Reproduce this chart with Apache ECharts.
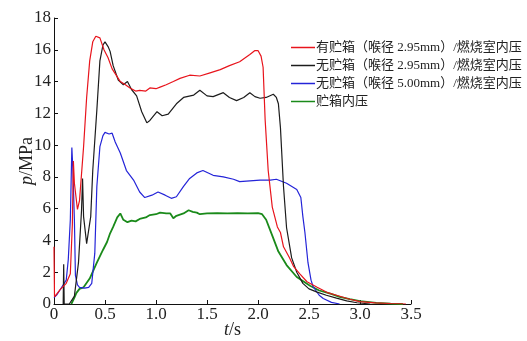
<!DOCTYPE html>
<html>
<head>
<meta charset="utf-8">
<script src="https://cdn.jsdelivr.net/npm/echarts@6/dist/echarts.min.js"></script>
<style>
html, body { margin: 0; padding: 0; background: #fff; }
#chart { width: 527px; height: 341px; }
</style>
</head>
<body>
<div id="chart"></div>
<script>
const seriesNames = [
  '有贮箱（喉径 2.95mm）/燃烧室内压',
  '无贮箱（喉径 2.95mm）/燃烧室内压',
  '无贮箱（喉径 5.00mm）/燃烧室内压',
  '贮箱内压'
]
const seriesColors = ['#e8141c', '#1c1c1c', '#2424d8', '#1a8a1a']

// [t (s), p (MPa)]
const withTank295 = [
  [0, 3.6], [0.005, 0.45], [0.06, 0.9], [0.12, 1.3], [0.16, 1.9], [0.18, 5], [0.19, 9.0], [0.2, 7.6],
  [0.23, 5.95], [0.25, 6.5], [0.29, 9.9], [0.32, 13.0], [0.35, 15.3], [0.38, 16.5], [0.41, 16.85],
  [0.45, 16.75], [0.49, 16.0], [0.53, 15.5], [0.57, 14.8], [0.6, 14.5], [0.65, 14.0], [0.7, 13.8],
  [0.745, 13.6], [0.8, 13.4], [0.84, 13.45], [0.9, 13.4], [0.94, 13.6], [1.0, 13.55], [1.04, 13.65],
  [1.1, 13.8], [1.17, 14.0], [1.235, 14.2], [1.33, 14.4], [1.43, 14.35], [1.53, 14.55], [1.63, 14.75],
  [1.72, 15.0], [1.82, 15.25], [1.92, 15.7], [1.97, 15.95], [2.0, 15.95], [2.03, 15.6], [2.05, 14.9],
  [2.07, 11.6], [2.1, 8.4], [2.14, 6.1], [2.19, 4.85], [2.22, 4.5], [2.25, 3.6], [2.31, 2.9],
  [2.35, 2.35], [2.41, 1.9], [2.48, 1.4], [2.58, 1.05], [2.68, 0.72], [2.77, 0.55], [2.9, 0.3],
  [3.0, 0.15], [3.15, 0.07], [3.3, 0.03], [3.45, 0]
]
const noTank295 = [
  [0.09, 0], [0.095, 2.5], [0.1, 0], [0.15, 0], [0.2, 0.5], [0.24, 2.6], [0.27, 5.9], [0.28, 7.9],
  [0.29, 5.5], [0.32, 3.8], [0.335, 3.9], [0.36, 5.5], [0.38, 8.4], [0.42, 12.2], [0.45, 15.3],
  [0.48, 16.3], [0.5, 16.5], [0.53, 16.2], [0.55, 15.9], [0.58, 15.0], [0.63, 14.1], [0.68, 13.8],
  [0.72, 14.0], [0.76, 13.5], [0.81, 13.1], [0.86, 12.1], [0.91, 11.4], [0.94, 11.55], [1.01, 12.1],
  [1.06, 11.85], [1.12, 11.95], [1.2, 12.6], [1.27, 13.0], [1.37, 13.15], [1.43, 13.45], [1.5, 13.1],
  [1.56, 13.05], [1.66, 13.3], [1.72, 13.0], [1.79, 12.8], [1.86, 13.0], [1.92, 13.3], [1.97, 13.05],
  [2.02, 12.95], [2.08, 13.0], [2.15, 13.2], [2.18, 13.0], [2.2, 12.6], [2.22, 11.1], [2.25, 7.4],
  [2.28, 4.8], [2.33, 2.9], [2.38, 2.0], [2.44, 1.3], [2.5, 0.95], [2.58, 0.75], [2.67, 0.55],
  [2.77, 0.37], [2.87, 0.2], [2.97, 0.08], [3.1, 0]
]
const noTank500 = [
  [0, 0.4], [0.03, 0.6], [0.06, 0.9], [0.12, 1.5], [0.14, 2.8], [0.16, 5.3], [0.175, 9.85], [0.185, 8.5],
  [0.2, 5.3], [0.21, 1.8], [0.23, 1.2], [0.25, 1.05], [0.3, 1.0], [0.34, 1.05], [0.37, 1.3], [0.4, 3.2],
  [0.42, 7.4], [0.45, 9.9], [0.48, 10.6], [0.5, 10.8], [0.54, 10.7], [0.57, 10.75], [0.6, 10.2],
  [0.65, 9.5], [0.71, 8.4], [0.78, 7.8], [0.84, 7.05], [0.89, 6.7], [0.96, 6.85], [1.02, 7.05],
  [1.09, 6.85], [1.15, 6.65], [1.2, 6.75], [1.27, 7.4], [1.33, 7.9], [1.4, 8.25], [1.46, 8.4],
  [1.56, 8.1], [1.66, 8.0], [1.76, 7.85], [1.82, 7.7], [1.92, 7.75], [2.02, 7.8], [2.12, 7.8],
  [2.18, 7.85], [2.28, 7.6], [2.38, 7.2], [2.42, 6.7], [2.44, 5.5], [2.46, 4.5], [2.49, 2.6],
  [2.52, 1.5], [2.54, 1.1], [2.6, 0.55], [2.64, 0.35], [2.72, 0.1], [2.8, 0]
]
const tankPressure = [
  [0.17, 0], [0.2, 0.4], [0.22, 0.7], [0.25, 0.95], [0.29, 1.05], [0.35, 1.6], [0.42, 2.6], [0.48, 3.4],
  [0.52, 3.9], [0.55, 4.45], [0.58, 4.85], [0.62, 5.45], [0.65, 5.7], [0.68, 5.3], [0.72, 5.15],
  [0.76, 5.25], [0.8, 5.2], [0.84, 5.35], [0.9, 5.45], [0.94, 5.6], [1.0, 5.65], [1.04, 5.75],
  [1.1, 5.7], [1.14, 5.7], [1.17, 5.4], [1.2, 5.55], [1.27, 5.7], [1.32, 5.9], [1.36, 5.8], [1.4, 5.75],
  [1.43, 5.65], [1.5, 5.7], [1.6, 5.72], [1.7, 5.7], [1.8, 5.72], [1.9, 5.7], [2.0, 5.72], [2.04, 5.65],
  [2.08, 5.3], [2.14, 4.3], [2.2, 3.3], [2.28, 2.45], [2.38, 1.7], [2.51, 1.15], [2.6, 0.85],
  [2.71, 0.65], [2.8, 0.45], [2.9, 0.3], [3.0, 0.18], [3.16, 0.07], [3.3, 0.02], [3.42, 0]
]
const allData = [withTank295, noTank295, noTank500, tankPressure]

const serif = '"Liberation Serif", "Times New Roman", serif'
const chart = echarts.init(document.getElementById('chart'))

chart.setOption({
  animation: false,
  grid: { left: 54, right: 116, top: 18, bottom: 37, containLabel: false, outerBoundsMode: 'none' },
  legend: {
    orient: 'vertical',
    left: 286,
    top: 36,
    icon: 'rect',
    itemWidth: 24,
    itemHeight: 1.5,
    itemGap: 5,
    data: seriesNames,
    textStyle: { fontSize: 13, color: '#222', fontFamily: '"Liberation Serif", "Noto Sans CJK SC", serif', padding: [0, 0, 0, -4] }
  },
  xAxis: {
    type: 'value',
    min: 0,
    max: 3.5,
    interval: 0.5,
    name: '{i|t}/s',
    nameLocation: 'middle',
    nameGap: 17,
    nameMoveOverlap: false,
    nameTextStyle: {
      fontSize: 18, fontFamily: serif, color: '#222',
      rich: { i: { fontSize: 18, fontFamily: serif, fontStyle: 'italic', color: '#222' } }
    },
    axisLine: { lineStyle: { color: '#111', width: 1 } },
    axisTick: { inside: true, length: 4, lineStyle: { color: '#111' } },
    axisLabel: {
      margin: 2, fontSize: 17, fontFamily: serif, color: '#222',
      formatter: v => v === 0 ? '0' : v.toFixed(1)
    },
    splitLine: { show: false }
  },
  yAxis: {
    type: 'value',
    min: 0,
    max: 18,
    interval: 2,
    name: '{i|p}/MPa',
    nameLocation: 'middle',
    nameGap: 18,
    nameMoveOverlap: false,
    nameTextStyle: {
      fontSize: 18, fontFamily: serif, color: '#222',
      rich: { i: { fontSize: 18, fontFamily: serif, fontStyle: 'italic', color: '#222' } }
    },
    axisLine: { show: true, lineStyle: { color: '#111', width: 1 } },
    axisTick: { show: true, inside: true, length: 4, lineStyle: { color: '#111' } },
    axisLabel: { margin: 3, fontSize: 17, fontFamily: serif, color: '#222' },
    splitLine: { show: false }
  },
  series: allData.map((d, i) => ({
    name: seriesNames[i],
    type: 'line',
    data: d,
    symbol: 'none',
    z: i === 3 ? 1 : 4 - i,
    lineStyle: { color: seriesColors[i], width: i === 3 ? 1.8 : 1.2 },
    itemStyle: { color: seriesColors[i] }
  }))
})
</script>
</body>
</html>
